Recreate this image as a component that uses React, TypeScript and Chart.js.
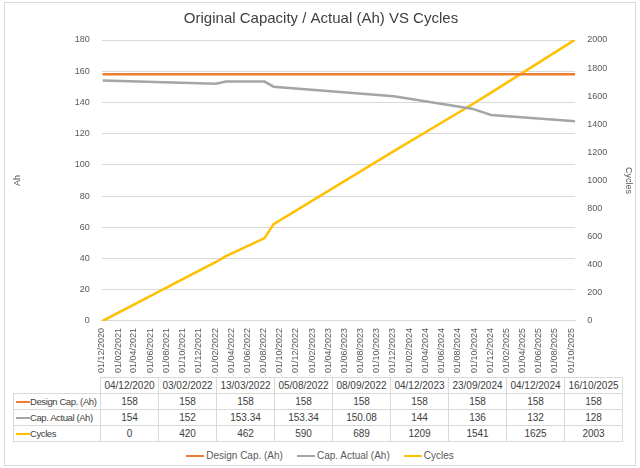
import React, { useEffect, useRef } from "react";
import { Chart, registerables } from "chart.js";
Chart.register(...registerables);

const dates = ["04/12/2020", "03/02/2022", "13/03/2022", "05/08/2022", "08/09/2022", "04/12/2023", "23/09/2024", "04/12/2024", "16/10/2025"];
const designCap = [158, 158, 158, 158, 158, 158, 158, 158, 158];
const capActual = [154, 152, 153.34, 153.34, 150.08, 144, 136, 132, 128];
const cycles = [0, 420, 462, 590, 689, 1209, 1541, 1625, 2003];
const seriesNames = ["Design Cap. (Ah)", "Cap. Actual (Ah)", "Cycles"];
const colors = ["#ED7D31", "#A5A5A5", "#FFC000"];

const DAY = 86400000;
const toDay = (s: string) => { const [d, m, y] = s.split("/").map(Number); return Date.UTC(y, m - 1, d) / DAY; };
const fmt = (v: number) => { const dt = new Date(v * DAY); const p = (n: number) => String(n).padStart(2, "0"); return `${p(dt.getUTCDate())}/${p(dt.getUTCMonth() + 1)}/${dt.getUTCFullYear()}`; };
const tickDays: number[] = [];
for (let i = 0; i <= 29; i++) { const y = 2020 + Math.floor((11 + i * 2) / 12); const m = (11 + i * 2) % 12; tickDays.push(Date.UTC(y, m, 1) / DAY); }

const FONT = "'Liberation Sans', sans-serif";

export default function App() {
  const ref = useRef<HTMLCanvasElement>(null);
  useEffect(() => {
    const xs = dates.map(toDay);
    const pts = (arr: number[]) => arr.map((v, i) => ({ x: xs[i], y: v }));
    const chart = new Chart(ref.current!, {
      type: "line",
      data: {
        datasets: [
          { label: seriesNames[0], data: pts(designCap), borderColor: colors[0], backgroundColor: colors[0], borderWidth: 2.5, pointRadius: 0, yAxisID: "y" },
          { label: seriesNames[1], data: pts(capActual), borderColor: colors[1], backgroundColor: colors[1], borderWidth: 2.5, pointRadius: 0, yAxisID: "y" },
          { label: seriesNames[2], data: pts(cycles), borderColor: colors[2], backgroundColor: colors[2], borderWidth: 2.5, pointRadius: 0, yAxisID: "y1", clip: 0 },
        ],
      },
      options: {
        animation: false, responsive: false, maintainAspectRatio: false,
        layout: { padding: { left: 8, right: 6, top: 4, bottom: 0 } },
        plugins: {
          legend: { display: false }, tooltip: { enabled: false },
          title: { display: true, text: "Original Capacity / Actual (Ah) VS Cycles", color: "#404040", font: { family: FONT, size: 15, weight: "normal" }, padding: { top: 6, bottom: 12 } },
        },
        scales: {
          x: {
            type: "linear", min: tickDays[0], max: toDay(dates[dates.length - 1]),
            afterBuildTicks: (s: any) => { s.ticks = tickDays.map((v) => ({ value: v })); },
            ticks: { callback: (v: any) => fmt(Number(v)), autoSkip: false, maxRotation: 90, minRotation: 90, color: "#595959", font: { family: FONT, size: 9 } },
            grid: { display: false, drawTicks: true, tickLength: 4, color: "#D9D9D9" },
            border: { color: "#D9D9D9" },
          },
          y: {
            min: 0, max: 180, ticks: { stepSize: 20, color: "#595959", font: { family: FONT, size: 9 }, padding: 12 },
            grid: { color: "#D9D9D9", drawTicks: false }, border: { display: false },
            title: { display: true, text: "Ah", color: "#595959", font: { family: FONT, size: 9 }, padding: { bottom: 40 } },
          },
          y1: {
            position: "right", min: 0, max: 2000, ticks: { stepSize: 200, callback: (v: any) => String(v), color: "#595959", font: { family: FONT, size: 9 }, padding: 12 },
            grid: { display: false, drawTicks: false }, border: { display: false },
            title: { display: true, text: "Cycles", color: "#595959", font: { family: FONT, size: 9 }, padding: { top: 0 } },
          },
        },
      } as any,
    });
    return () => chart.destroy();
  }, []);

  const cell: React.CSSProperties = { border: "1px solid #D9D9D9", textAlign: "center", padding: 0, height: 15, fontSize: 10, color: "#404040" };
  const rows = [designCap, capActual, cycles];
  return (
    <div style={{ position: "fixed", left: 0, top: 0, width: 640, height: 468, background: "#fff", fontFamily: FONT, overflow: "hidden" }}>
      <div style={{ position: "absolute", left: 4, top: 2, width: 630, height: 462, border: "1px solid #D9D9D9" }} />
      <canvas ref={ref} width={640} height={376} style={{ position: "absolute", left: 0, top: 0, width: 640, height: 376 }} />
      <table style={{ position: "absolute", left: 13, top: 377, width: 610, borderCollapse: "collapse", tableLayout: "fixed" }}>
        <colgroup><col style={{ width: 87 }} />{dates.map((d) => <col key={d} />)}</colgroup>
        <tbody>
          <tr><td style={{ ...cell, border: "none", borderRight: "1px solid #D9D9D9" }}></td>{dates.map((d) => <td key={d} style={cell}>{d}</td>)}</tr>
          {rows.map((r, i) => (
            <tr key={i}>
              <td style={{ ...cell, textAlign: "left", whiteSpace: "nowrap", overflow: "hidden", fontSize: 9.5, letterSpacing: -0.4 }}>
                <span style={{ display: "inline-block", width: 14, height: 2, background: colors[i], verticalAlign: "middle", marginLeft: 2 }} />{seriesNames[i]}
              </td>
              {r.map((v, j) => <td key={j} style={cell}>{v}</td>)}
            </tr>
          ))}
        </tbody>
      </table>
      <div style={{ position: "absolute", left: 0, width: 640, top: 450, display: "flex", justifyContent: "center", gap: 14, fontSize: 10, color: "#595959" }}>
        {seriesNames.map((n, i) => (
          <span key={n}><span style={{ display: "inline-block", width: 18, height: 2, background: colors[i], verticalAlign: "middle", marginRight: 2 }} />{n}</span>
        ))}
      </div>
    </div>
  );
}
